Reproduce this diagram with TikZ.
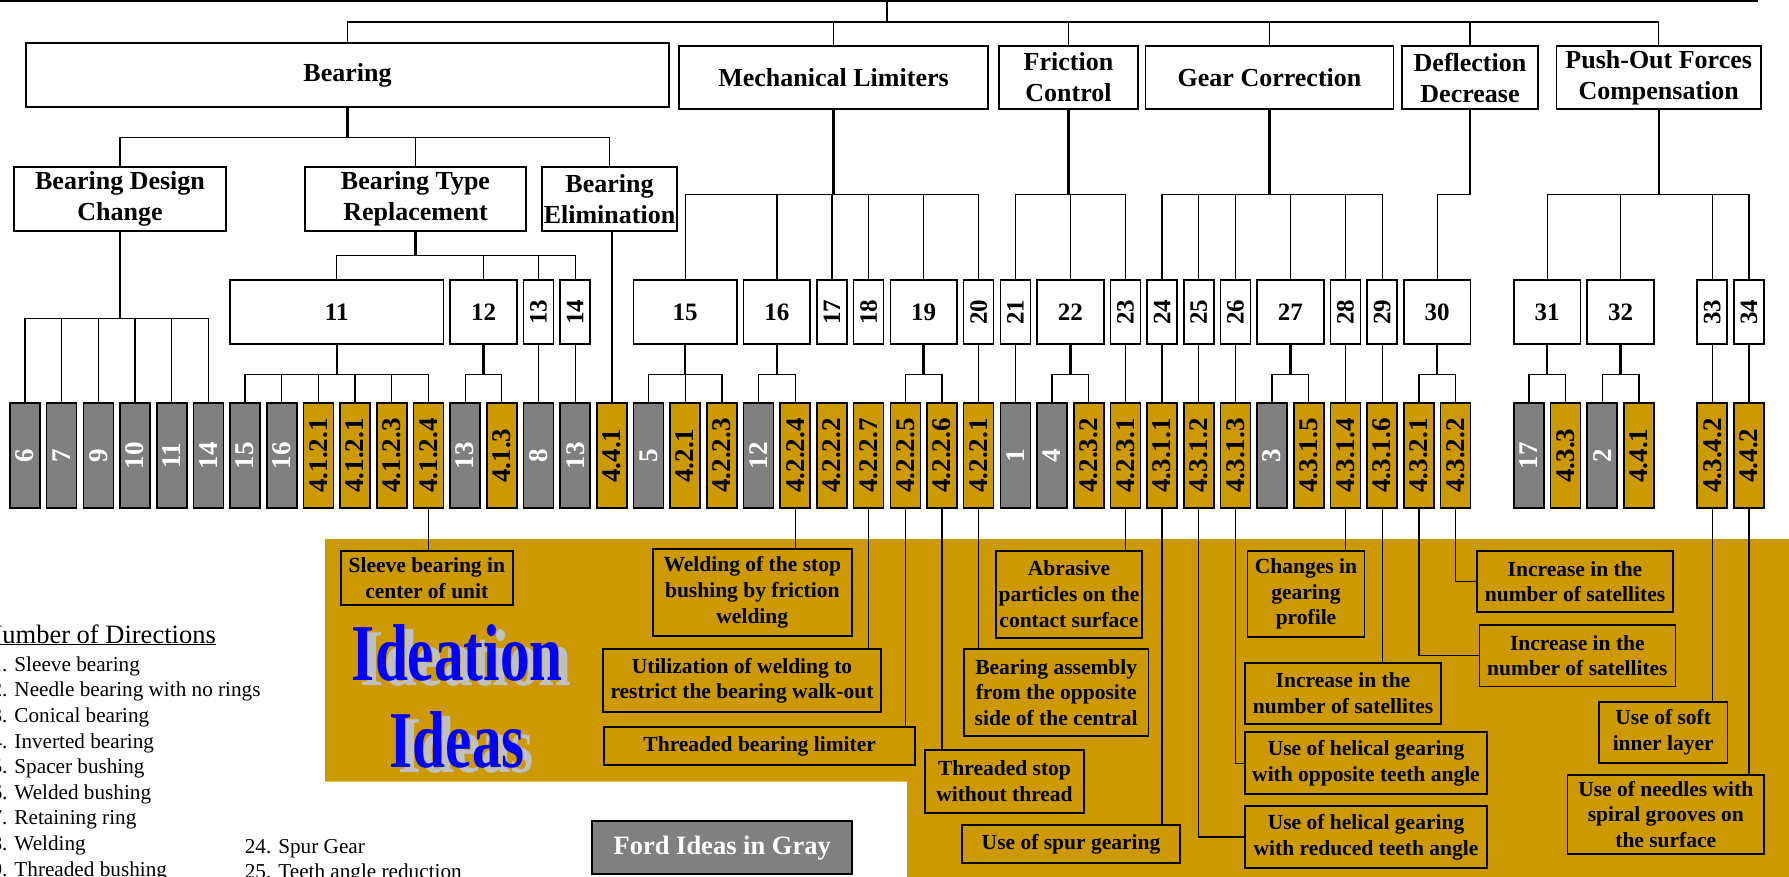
\documentclass[tikz,border=0pt]{standalone}
\usepackage{fontspec}
\setmainfont{Liberation Serif}
\usepackage{graphicx}
\usepackage{tikz}
\usetikzlibrary{positioning, calc}
\definecolor{ideagold}{RGB}{204,153,0}
\definecolor{fordgray}{RGB}{128,128,128}
\definecolor{shadowgray}{RGB}{192,192,192}
\definecolor{wordblue}{RGB}{0,0,255}
\newcommand{\squeezed}[1]{\scalebox{0.735}[1]{#1}}
\tikzset{
  head_box/.style={rectangle, draw=black, line width=1.6pt, fill=white, align=center, inner sep=0pt, font=\fontsize{26}{31}\selectfont\bfseries},
  num_box/.style={rectangle, draw=black, line width=1.6pt, fill=white, inner sep=0pt, minimum height=64, font=\fontsize{25}{30}\selectfont\bfseries},
  cell_G/.style={rectangle, draw=black, line width=1.6pt, fill=fordgray, text=white, inner sep=0pt, minimum width=30, minimum height=105, font=\fontsize{27}{30}\selectfont\bfseries},
  cell_Y/.style={cell_G, fill=ideagold, text=black},
  idea_box/.style={rectangle, draw=black, line width=1.8pt, fill=ideagold, align=center, inner sep=0pt, font=\fontsize{21.5}{25.8}\selectfont\bfseries},
  ford_box/.style={rectangle, draw=black, line width=2.2pt, fill=fordgray, text=white, inner sep=0pt, font=\fontsize{26.5}{30}\selectfont\bfseries},
  big_word/.style={text=wordblue, inner sep=0pt, font=\fontsize{80.6}{87}\selectfont\bfseries},
  big_shadow/.style={big_word, text=shadowgray},
  leg_title/.style={inner sep=0pt, font=\fontsize{26.5}{30}\selectfont},
  leg_item/.style={inner sep=0pt, font=\fontsize{21.2}{25.6}\selectfont},
  link/.style={draw=black, line width=1.3pt},
  trunk/.style={draw=black, line width=2.4pt}
}

\begin{document}
\begin{tikzpicture}[x=1pt, y=-1pt]
\useasboundingbox (0,0) rectangle (1789,876);
\clip (0,0) rectangle (1789,876);

% Ideas area
\fill[ideagold] (325,539) -- (1795,539) -- (1795,880) -- (907,880) -- (907,781.7) -- (325,781.7) -- cycle;

% Directions
\coordinate (rootl) at (0,1);
\coordinate (rootr) at (1758,1);
\coordinate (root) at (887,1);
\node (bear) [head_box, minimum width=643, minimum height=64] at (347.5,75) {Bearing};
\node (mech) [head_box, minimum width=309, minimum height=63] at (833.5,77.5) {Mechanical Limiters};
\node (fric) [head_box, minimum width=139, minimum height=63] at (1068.5,77.5) {Friction\\Control};
\node (gear) [head_box, minimum width=248, minimum height=63] at (1269.5,77.5) {Gear Correction};
\node (defl) [head_box, minimum width=136, minimum height=63] at (1470,77.5) {Deflection\\Decrease};
\node (push) [head_box, minimum width=204.5, minimum height=63] at (1658.7,77.5) {Push-Out Forces\\Compensation};

\node (bdc) [head_box, minimum width=212, minimum height=64] at (120,199) {Bearing Design\\Change};
\node (btr) [head_box, minimum width=221, minimum height=64] at (415.5,199) {Bearing Type\\Replacement};
\node (bel) [head_box, minimum width=135, minimum height=64] at (609.5,199) {Bearing\\Elimination};

% Numbered groups
\foreach \lab/\ka/\kb in {11/6/11, 12/12/13, 13/14/14, 14/15/15, 15/17/19, 16/20/21, 17/22/22, 18/23/23, 19/24/25, 20/26/26, 21/27/27, 22/28/29, 23/30/30, 24/31/31, 25/32/32, 26/33/33, 27/34/35, 28/36/36, 29/37/37, 30/38/39, 31/41/42, 32/43/44, 33/46/46, 34/47/47} {
    \pgfmathsetmacro\colx{25+36.68*(\ka+\kb)/2}
    \pgfmathsetmacro\colw{36.68*(\kb-\ka)+30}
    \ifnum\ka=\kb\relax
        \node (n\lab) [num_box, minimum width=\colw] at (\colx,312) {\rotatebox{90}{\lab}};
    \else
        \node (n\lab) [num_box, minimum width=\colw] at (\colx,312) {\lab};
    \fi
}

% Ideas
\foreach \k/\lab/\kind in {0/6/G, 1/7/G, 2/9/G, 3/10/G, 4/11/G, 5/14/G, 6/15/G, 7/16/G, 8/4.1.2.1/Y, 9/4.1.2.1/Y, 10/4.1.2.3/Y, 11/4.1.2.4/Y, 12/13/G, 13/4.1.3/Y, 14/8/G, 15/13/G, 16/4.4.1/Y, 17/5/G, 18/4.2.1/Y, 19/4.2.2.3/Y, 20/12/G, 21/4.2.2.4/Y, 22/4.2.2.2/Y, 23/4.2.2.7/Y, 24/4.2.2.5/Y, 25/4.2.2.6/Y, 26/4.2.2.1/Y, 27/1/G, 28/4/G, 29/4.2.3.2/Y, 30/4.2.3.1/Y, 31/4.3.1.1/Y, 32/4.3.1.2/Y, 33/4.3.1.3/Y, 34/3/G, 35/4.3.1.5/Y, 36/4.3.1.4/Y, 37/4.3.1.6/Y, 38/4.3.2.1/Y, 39/4.3.2.2/Y, 41/17/G, 42/4.3.3/Y, 43/2/G, 44/4.4.1/Y, 46/4.3.4.2/Y, 47/4.4.2/Y}
    \node (b\k) [cell_\kind] at ({25+36.68*\k},455.5) {\rotatebox{90}{\lab}};

% Connections
\draw[trunk] (rootl) -- (rootr);
\draw[trunk] (root) -- ++(0,21);
\foreach \h in {bear, mech, fric, gear, defl, push}
    \draw[link] (root) ++(0,21) -| (\h.north);

\draw[trunk] (bear.south) -- ++(0,30);
\foreach \c in {bdc, btr, bel}
    \draw[link] (bear.south) ++(0,30) -| (\c.north);

\foreach \p/\kids in {mech/{15,16,17,18,19,20}, fric/{21,22,23}, gear/{24,25,26,27,28,29}, push/{31,32,33,34}} {
    \draw[trunk] (\p.south) -- ++(0,85);
    \foreach \c in \kids
        \draw[link] (\p.south) ++(0,85) -| (n\c.north);
}
\draw[link] (defl.south) -- ++(0,85) -| (n30.north);

\draw[trunk] (btr.south) -- ++(0,24);
\foreach \c in {11,12,13,14}
    \draw[link] (btr.south) ++(0,24) -| (n\c.north);

\draw[trunk] (bdc.south) -- ++(0,87);
\foreach \c in {0,...,5}
    \draw[link] (bdc.south) ++(0,87) -| (b\c.north);
\draw[link] (bel.south -| b16.north) -- (b16.north);

\foreach \p/\kids in {11/{6,7,8,9,10,11}, 12/{12,13}, 15/{17,18,19}, 16/{20,21}, 19/{24,25}, 22/{28,29}, 27/{34,35}, 30/{38,39}, 31/{41,42}, 32/{43,44}} {
    \draw[trunk] (n\p.south) -- ++(0,30);
    \foreach \c in \kids
        \draw[link] (n\p.south) ++(0,30) -| (b\c.north);
}
\foreach \p/\c in {13/14, 14/15, 20/26, 21/27, 23/30, 24/31, 25/32, 26/33, 28/36, 29/37, 33/46, 34/47}
    \draw[link] (n\p.south) -- (b\c.north);

% Idea boxes
\node (isleeve) [idea_box, minimum width=171.6, minimum height=54.3] at (426.8,577.9) {Sleeve bearing in\\center of unit};
\node (iweld) [idea_box, minimum width=199.3, minimum height=87] at (752.3,592.5) {Welding of the stop\\bushing by friction\\welding};
\node (iutil) [idea_box, minimum width=277.4, minimum height=63] at (742,680.8) {Utilization of welding to\\restrict the bearing walk-out};
\node (ithrl) [idea_box, minimum width=310.7, minimum height=38.6] at (759.7,746) {Threaded bearing limiter};
\node (ithst) [idea_box, minimum width=159, minimum height=63] at (1004.5,781.5) {Threaded stop\\without thread};
\node (iasm) [idea_box, minimum width=184.4, minimum height=87] at (1056.2,692.5) {Bearing assembly\\from the opposite\\side of the central};
\node (iabr) [idea_box, minimum width=146, minimum height=87.3] at (1069,594.4) {Abrasive\\particles on the\\contact surface};
\node (ispur) [idea_box, minimum width=217.4, minimum height=38] at (1071,844) {Use of spur gearing};
\node (ichg) [idea_box, minimum width=117.1, minimum height=85.7] at (1306,593.9) {Changes in\\gearing\\profile};
\node (isat3) [idea_box, minimum width=196, minimum height=61.6] at (1343,693.5) {Increase in the\\number of satellites};
\node (ihelo) [idea_box, minimum width=242, minimum height=62.3] at (1366,763.2) {Use of helical gearing\\with opposite teeth angle};
\node (ihelr) [idea_box, minimum width=242, minimum height=61.7, below=10pt of ihelo] {Use of helical gearing\\with reduced teeth angle};
\node (isat1) [idea_box, minimum width=196, minimum height=61.3] at (1575,581.7) {Increase in the\\number of satellites};
\node (isat2) [idea_box, minimum width=196, minimum height=61.7, below=10.7pt of isat1, xshift=2.4pt] {Increase in the\\number of satellites};
\node (isoft) [idea_box, minimum width=128.7, minimum height=61.6] at (1663.2,732.5) {Use of soft\\inner layer};
\node (ineed) [idea_box, minimum width=196.5, minimum height=79] at (1665.8,814.5) {Use of needles with\\spiral grooves on\\the surface};

\foreach \c/\i in {11/isleeve, 21/iweld, 23/iutil, 24/ithrl, 25/ithst, 26/iasm, 30/iabr, 31/ispur, 36/ichg, 37/isat3, 46/isoft, 47/ineed}
    \draw[link] (b\c.south) -- (b\c.south |- \i.north);
\foreach \c/\i in {32/ihelr, 33/ihelo, 38/isat2, 39/isat1}
    \draw[link] (b\c.south) |- (\i.west);

% Title words
\foreach \w/\yb in {Ideation/680.7, Ideas/767.3} {
    \node (sh\w) [big_shadow, anchor=base] at (466.3,\yb+5) {\squeezed{\w}};
    \node (w\w) [big_word, anchor=base] at (457.3,\yb) {\squeezed{\w}};
}

% Legend
\node (legtitle) [leg_title, anchor=base east] at (216,643) {\underline{Number of Directions}};
\foreach \t [count=\i] in {Sleeve bearing, Needle bearing with no rings, Conical bearing, Inverted bearing, Spacer bushing, Welded bushing, Retaining ring, Welding, Threaded bushing}
    \node (leg\i) [leg_item, anchor=base west] at (-8.7,{671.3+25.6*(\i-1)}) {\i. \t};
\node (leg24) [leg_item, anchor=base west] at (244.6,853) {24. Spur Gear};
\node (leg25) [leg_item, anchor=base west] at (244.6,878.6) {25. Teeth angle reduction};

\node (ford) [ford_box, minimum width=260.3, minimum height=53.3] at (722.2,847.7) {Ford Ideas in Gray};
\end{tikzpicture}
\end{document}
